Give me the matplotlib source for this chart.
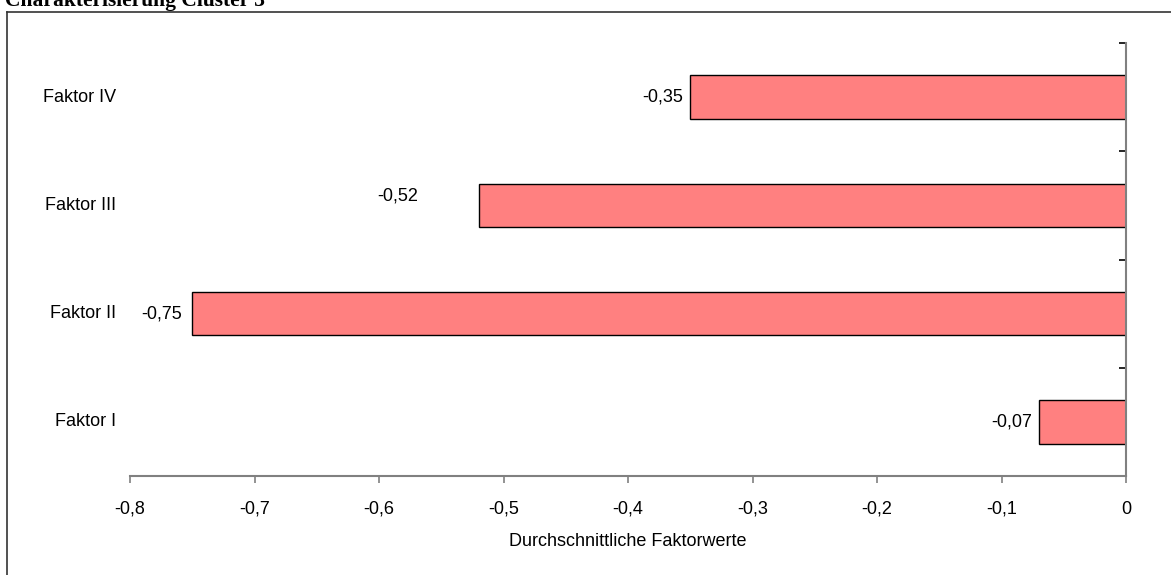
import matplotlib
matplotlib.use("Agg")
import matplotlib.pyplot as plt
import matplotlib.transforms as mtransforms
from matplotlib.lines import Line2D
from matplotlib.ticker import FixedLocator, NullFormatter

title = "Charakterisierung Cluster 3"
categories = ["Faktor I", "Faktor II", "Faktor III", "Faktor IV"]
values = [-0.07, -0.75, -0.52, -0.35]
value_labels = ["-0,07", "-0,75", "-0,52", "-0,35"]
x_ticks = [-0.8, -0.7, -0.6, -0.5, -0.4, -0.3, -0.2, -0.1, 0.0]
x_tick_labels = ["-0,8", "-0,7", "-0,6", "-0,5", "-0,4", "-0,3", "-0,2", "-0,1", "0"]
x_label = "Durchschnittliche Faktorwerte"

# label offsets in pixels (dx, dy) relative to bar end
label_offsets = [(-7, 0), (-10, 0), (-60, 9), (-7, 0)]

W, H = 1171, 575
plt.rcParams['font.family'] = ['Liberation Sans', 'DejaVu Sans']
fig = plt.figure(figsize=(W / 100, H / 100), dpi=100)

ax = fig.add_axes([130 / W, 1 - 476 / H, (1126 - 130) / W, (476 - 43) / H])

ypos = list(range(len(categories)))
ax.barh(ypos, values, height=0.4, color="#FF8080", edgecolor="#000000", linewidth=1.0)
ax.set_xlim(-0.8, 0)
ax.set_ylim(-0.5, len(categories) - 0.5)

for y, v, lab, (dx, dy) in zip(ypos, values, value_labels, label_offsets):
    ax.annotate(lab, xy=(v, y), xytext=(dx * 0.72, dy * 0.72), textcoords="offset points",
                ha="right", va="center", fontsize=13, color="black")

for s in ["top", "left"]:
    ax.spines[s].set_visible(False)
for s in ["bottom", "right"]:
    ax.spines[s].set_color("#808080")
    ax.spines[s].set_linewidth(1.5)

ax.set_xticks(x_ticks)
ax.set_xticklabels(x_tick_labels, fontsize=13)
ax.tick_params(axis="x", direction="out", length=5, width=1.2, color="#808080", pad=13)

ax.yaxis.set_major_locator(FixedLocator([i - 0.5 for i in range(len(categories) + 1)]))
ax.yaxis.set_major_formatter(NullFormatter())
ax.yaxis.tick_right()
ax.tick_params(axis="y", direction="in", length=5, width=1.2, color="#000000", right=True, left=False)

trans = mtransforms.blended_transform_factory(fig.transFigure, ax.transData)
for y, c in zip(ypos, categories):
    ax.text(116 / W, y, c, transform=trans, fontsize=13, ha="right", va="center", clip_on=False)

ax.set_xlabel(x_label, fontsize=13, labelpad=11)

# title (cut off at top edge, as in the reference)
fig.text(5 / W, 1 - 6 / H, title, fontsize=15.5, fontweight="bold",
         family=["Liberation Serif", "DejaVu Serif"], ha="left", va="baseline")

# outer frame: left and top lines only
fig.add_artist(Line2D([7 / W, 7 / W], [0, 1 - 12 / H], transform=fig.transFigure,
                      color="#333333", linewidth=1.2))
fig.add_artist(Line2D([7 / W, 1], [1 - 12 / H, 1 - 12 / H], transform=fig.transFigure,
                      color="#333333", linewidth=1.2))

fig.savefig("out.png", dpi=100)
